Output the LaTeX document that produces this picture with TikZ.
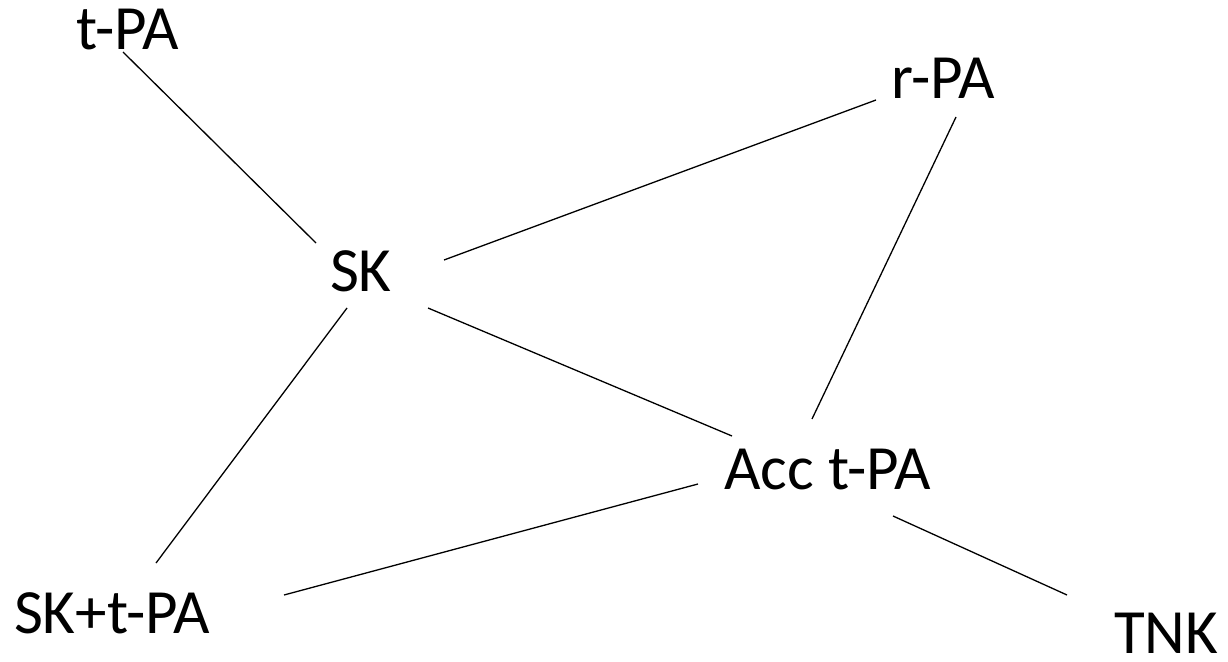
\documentclass[tikz,border=0pt]{standalone}
\usepackage{fontspec}
\setmainfont{Carlito}
\usetikzlibrary{calc}
\begin{document}
\begin{tikzpicture}[x=1pt,y=-1pt,
  lbl/.style={inner sep=0pt,outer sep=0pt,anchor=base west,font=\fontsize{63}{75}\selectfont},
  link/.style={line width=1.3pt,black}]
\useasboundingbox (0,0) rectangle (1228,661);
% labels
\node[lbl] (tpa)   at (76,50)    {t-PA};
\node[lbl] (sk)    at (330,291)  {SK};
\node[lbl] (acc)   at (724,489)  {Acc t-PA};
\node[lbl] (rpa)   at (891,98)   {r-PA};
\node[lbl] (sktpa) at (14,633)   {SK+t-PA};
\node[lbl] (tnk)   at (1114,653) {TNK};
% connections
\draw[link] ($(tpa.base west)+(47,2)$)    -- ($(sk.base west)+(-14,-48)$);
\draw[link] ($(sk.base west)+(114,-31)$)  -- ($(rpa.base west)+(-15,2)$);
\draw[link] ($(sk.base west)+(98,17)$)    -- ($(acc.base west)+(8,-53)$);
\draw[link] ($(sk.base west)+(17,17)$)    -- ($(sktpa.base west)+(142,-70)$);
\draw[link] ($(rpa.base west)+(65,19)$)   -- ($(acc.base west)+(88,-70)$);
\draw[link] ($(acc.base west)+(-26,-5)$)  -- ($(sktpa.base west)+(270,-38)$);
\draw[link] ($(acc.base west)+(169,27)$)  -- ($(tnk.base west)+(-47,-58)$);
\end{tikzpicture}
\end{document}
